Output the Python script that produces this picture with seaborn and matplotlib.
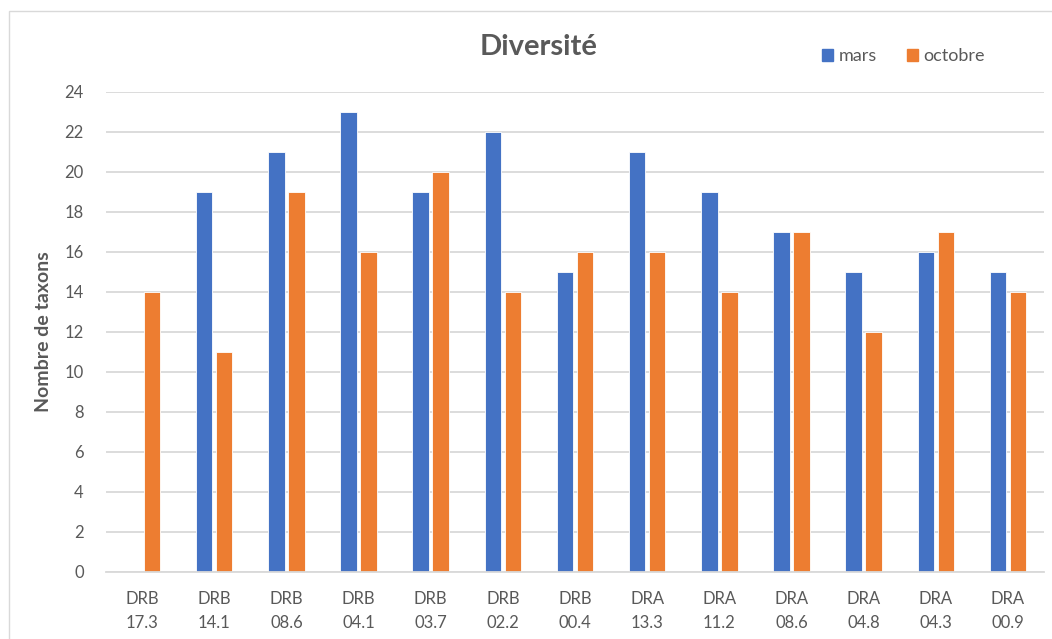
import matplotlib
matplotlib.use("Agg")
import matplotlib.pyplot as plt
import matplotlib.patches as mpatches
import seaborn as sns
import pandas as pd

categories = ["DRB\n17.3", "DRB\n14.1", "DRB\n08.6", "DRB\n04.1", "DRB\n03.7", "DRB\n02.2",
              "DRB\n00.4", "DRA\n13.3", "DRA\n11.2", "DRA\n08.6", "DRA\n04.8", "DRA\n04.3", "DRA\n00.9"]
mars = [0, 19, 21, 23, 19, 22, 15, 21, 19, 17, 15, 16, 15]
octobre = [14, 11, 19, 16, 20, 14, 16, 16, 14, 17, 12, 17, 14]
series_names = ["mars", "octobre"]
yticks = list(range(0, 25, 2))

df = pd.DataFrame({
    "station": categories * 2,
    "value": mars + octobre,
    "série": ["mars"] * len(categories) + ["octobre"] * len(categories),
})

sns.set_theme(style="white")
plt.rcParams["font.family"] = ["Lato", "DejaVu Sans"]
txt = "#595959"
grid = "#D9D9D9"

fig = plt.figure(figsize=(10.52, 6.39), dpi=100)
ax = fig.add_axes([106 / 1052, 1 - 572 / 639, (1044 - 106) / 1052, (572 - 92) / 639])

palette = {"mars": "#4472C4", "octobre": "#ED7D31"}
sns.barplot(data=df, x="station", y="value", hue="série", hue_order=series_names,
            order=categories, palette=palette, width=0.554, gap=0.175,
            saturation=1, ax=ax, legend=True, edgecolor="white", linewidth=0.6)

ax.set_ylim(0, 24)
ax.set_yticks(yticks)
ax.set_xlim(-0.5, len(categories) - 0.5)
ax.yaxis.grid(True, color=grid, linewidth=1.3)
ax.set_axisbelow(True)
for s in ["top", "right", "left"]:
    ax.spines[s].set_visible(False)
ax.spines["bottom"].set_color(grid)
ax.spines["bottom"].set_linewidth(1.3)
ax.tick_params(axis="both", length=0, colors=txt, labelsize=12)
ax.tick_params(axis="x", pad=14)
ax.tick_params(axis="y", pad=16)
for lab in ax.get_xticklabels():
    lab.set_linespacing(1.6)
ax.set_xlabel("")
ax.set_ylabel("Nombre de taxons", fontsize=14, fontweight="bold", color=txt, labelpad=9)

fig.text(539 / 1052, 1 - 47 / 639, "Diversité", ha="center", va="center",
         fontsize=21, fontweight="bold", color=txt)

handles = [mpatches.Patch(color=palette[n]) for n in series_names]
ax.legend(handles, series_names, loc="center left", ncol=2, frameon=False,
          bbox_to_anchor=(806 / 1052, 1 - 56 / 639), bbox_transform=fig.transFigure,
          fontsize=13, labelcolor=txt, handlelength=0.6, handleheight=0.65,
          handletextpad=0.3, columnspacing=1.7)

border = mpatches.Rectangle((9 / 1052, -0.05), 1.2, 1 - 11 / 639 + 0.05,
                            transform=fig.transFigure, fill=False,
                            edgecolor=grid, linewidth=1.0, clip_on=False)
fig.patches.append(border)

fig.savefig("out.png", dpi=100)
